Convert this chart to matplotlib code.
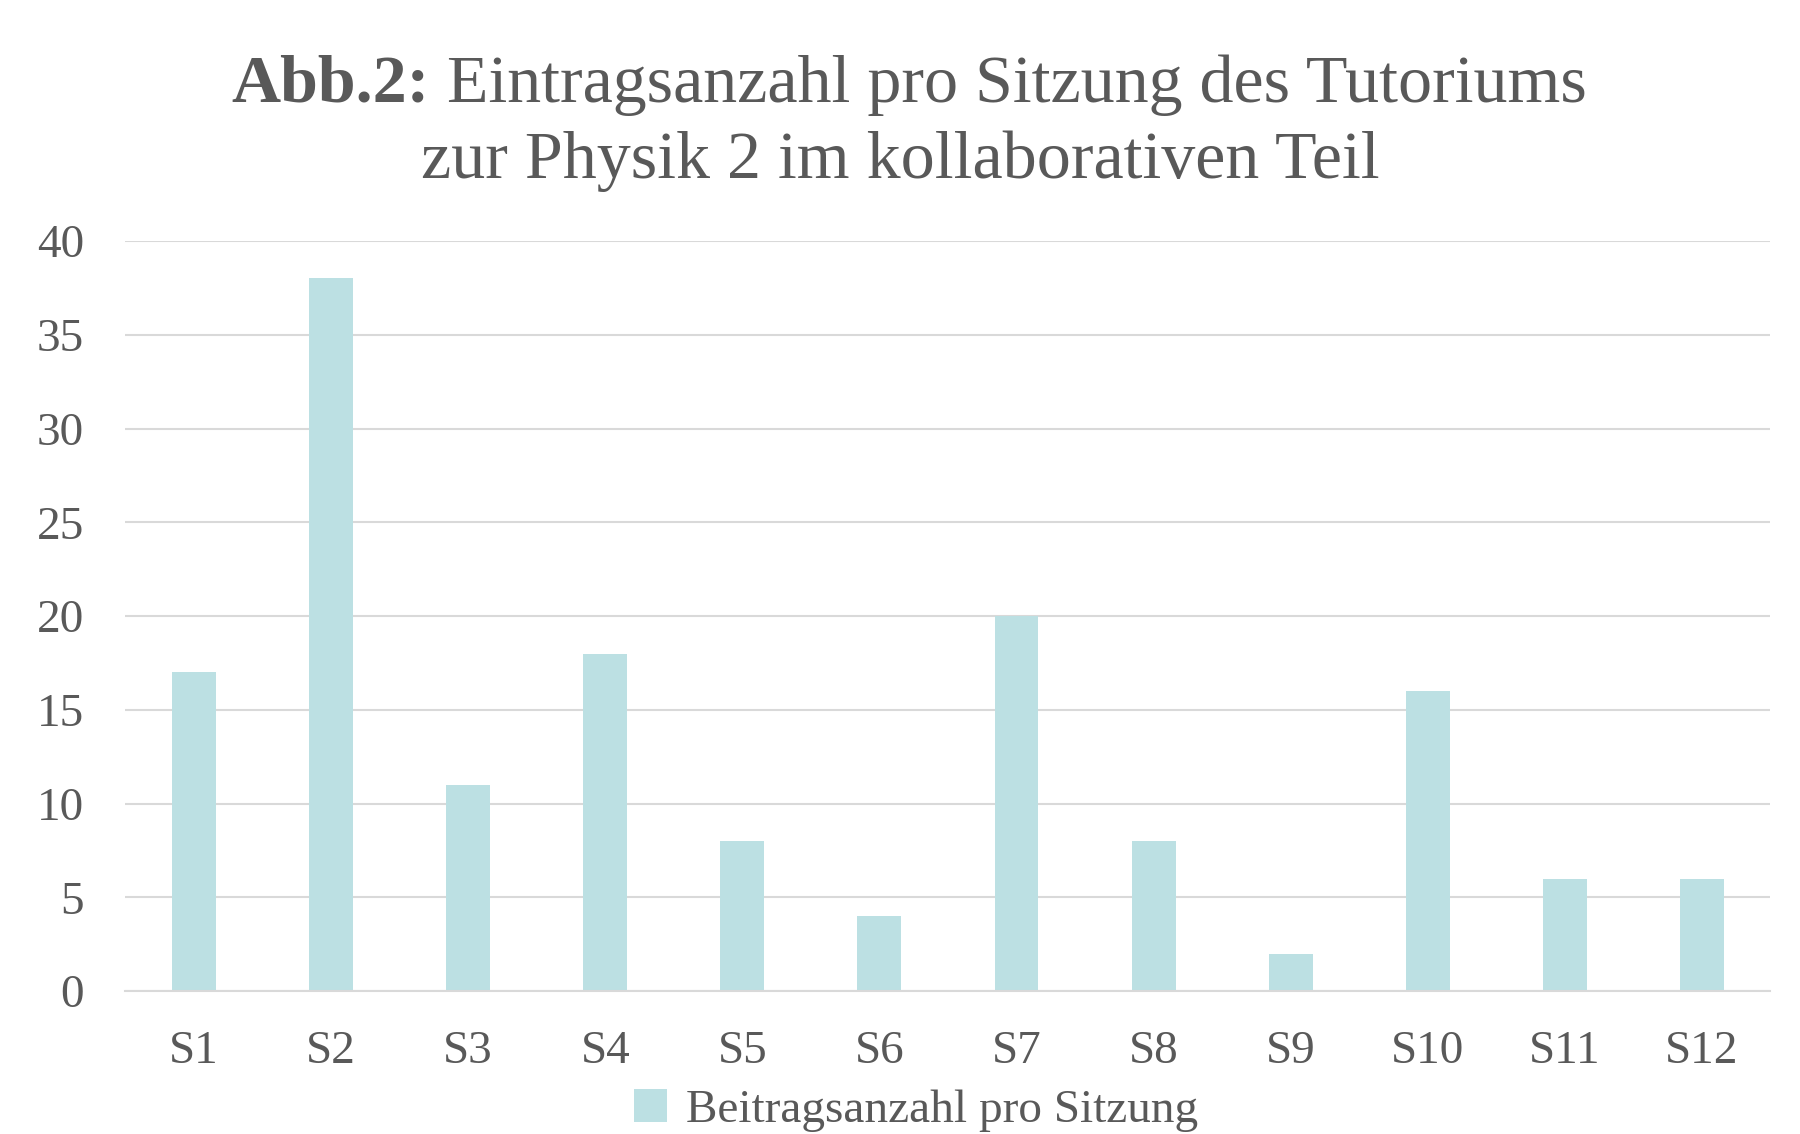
import matplotlib
matplotlib.use('Agg')
import matplotlib.pyplot as plt
import numpy as np

sessions = ['S1', 'S2', 'S3', 'S4', 'S5', 'S6', 'S7', 'S8', 'S9', 'S10', 'S11', 'S12']
counts = [17, 38, 11, 18, 8, 4, 20, 8, 2, 16, 6, 6]
series_name = 'Beitragsanzahl pro Sitzung'
title_bold = 'Abb.2:'
title_rest = ' Eintragsanzahl pro Sitzung des Tutoriums'
title_line2 = 'zur Physik 2 im kollaborativen Teil'

txt = '#595959'
plt.rcParams['font.family'] = ['Liberation Serif', 'DejaVu Serif']

fig = plt.figure(figsize=(18, 11.34), dpi=100)
ax = fig.add_axes([0.0697, 0.126, 0.9139, 0.6615])

x = np.arange(len(sessions))
ax.bar(x, counts, width=0.32, color='#BCE0E3', label=series_name, zorder=2)
ax.set_xlim(-0.5, len(sessions) - 0.5)
ax.set_ylim(0, 40)
ax.set_yticks(range(0, 41, 5))
ax.set_xticks(x)
ax.set_xticklabels(sessions)
ax.yaxis.grid(True, color='#D9D9D9', lw=1.5, zorder=0)
for s in ['top', 'right', 'left']:
    ax.spines[s].set_visible(False)
ax.spines['bottom'].set_color('#D9D9D9')
ax.spines['bottom'].set_linewidth(1.5)
ax.tick_params(length=0, labelsize=34, labelcolor=txt)
ax.tick_params(axis='y', pad=30)
ax.tick_params(axis='x', pad=28)

# title, first line partly bold
fig.canvas.draw()
r = fig.canvas.get_renderer()
tb = fig.text(0, 0.925, title_bold, fontsize=49, fontweight='bold', color=txt, va='center')
tr = fig.text(0, 0.925, title_rest, fontsize=49, color=txt, va='center')
wb = tb.get_window_extent(r).width / fig.bbox.width
wr = tr.get_window_extent(r).width / fig.bbox.width
x0 = 0.5 - (wb + wr) / 2 + 0.005
tb.set_x(x0)
tr.set_x(x0 + wb)
fig.text(0.5, 0.858, title_line2, fontsize=49, color=txt, ha='center', va='center')

fig.legend(loc='lower center', bbox_to_anchor=(0.509, 0.002), frameon=False,
           fontsize=34, labelcolor=txt, handlelength=0.7, handleheight=0.7,
           handletextpad=0.4, borderaxespad=0, borderpad=0)

fig.savefig('out.png', dpi=100)
